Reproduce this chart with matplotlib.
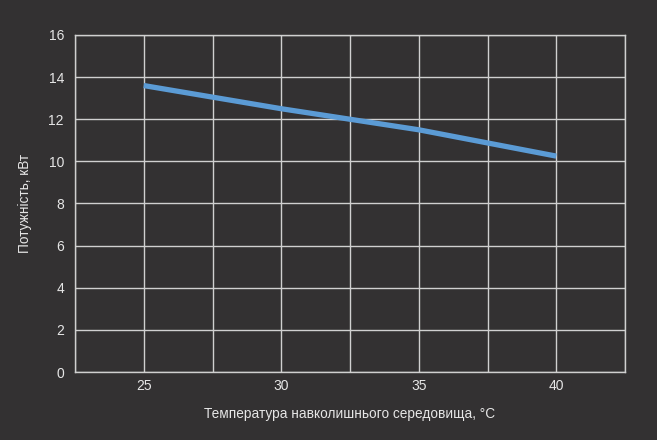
import matplotlib.pyplot as plt

# data
temperature = [25, 30, 35, 40]
power = [13.6, 12.5, 11.5, 10.25]
x_ticks = [25, 30, 35, 40]
y_ticks = [0, 2, 4, 6, 8, 10, 12, 14, 16]

bg = '#333132'
fg = '#e6e6e6'

plt.rcParams['font.family'] = ['Liberation Sans', 'DejaVu Sans']

fig = plt.figure(figsize=(6.57, 4.40), dpi=100, facecolor=bg)
ax = fig.add_axes([75 / 657, 1 - 372 / 440, 550 / 657, 337 / 440], facecolor=bg)

ax.plot(temperature, power, color='#5b9bd5', linewidth=3.8, solid_capstyle='butt', zorder=3)

ax.set_xlim(22.5, 42.5)
ax.set_ylim(0, 16)
ax.set_xticks(x_ticks)
ax.set_xticks([22.5, 27.5, 32.5, 37.5, 42.5], minor=True)
ax.set_yticks(y_ticks)
ax.grid(True, which='both', color='#d0d0d0', linewidth=1.0)
ax.tick_params(which='both', length=0, colors=fg, labelsize=10)
ax.tick_params(axis='x', pad=5)
ax.tick_params(axis='y', pad=8)
for s in ax.spines.values():
    s.set_color('#d0d0d0')
    s.set_linewidth(1.0)

ax.set_xlabel('Температура навколишнього середовища, °C', color=fg, fontsize=9.8, labelpad=10)
ax.set_ylabel('Потужність, кВт', color=fg, fontsize=9.8, labelpad=12)

plt.savefig('out.png', dpi=100, facecolor=bg)
